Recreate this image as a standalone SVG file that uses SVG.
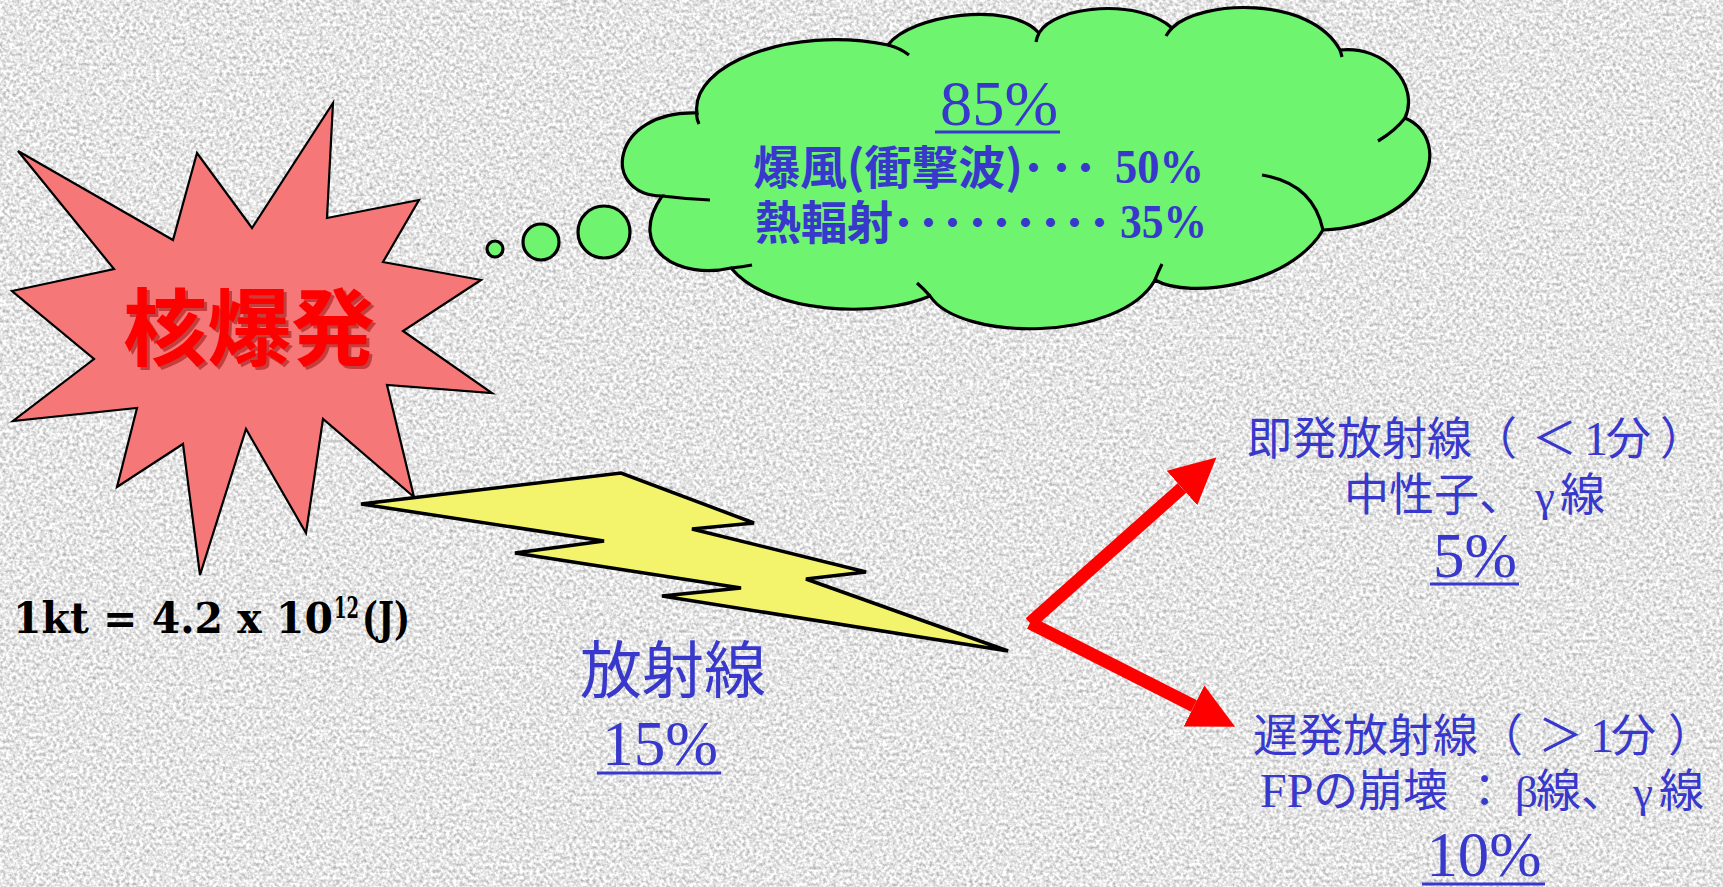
<svg xmlns="http://www.w3.org/2000/svg" width="1723" height="887" viewBox="0 0 1723 887">
  <defs>
    <filter id="grain" x="0" y="0" width="1" height="1" color-interpolation-filters="sRGB">
      <feTurbulence type="fractalNoise" baseFrequency="0.3" numOctaves="2" seed="7"/>
      <feColorMatrix type="matrix" values="0.6 0 0 0 0.6  0.6 0 0 0 0.6  0.6 0 0 0 0.6  0 0 0 0 1"/>
    </filter>
    <marker id="head" markerUnits="userSpaceOnUse" viewBox="0 -24 48 48" refX="0" refY="0" markerWidth="48" markerHeight="48" orient="auto">
      <path d="M0,-23 L46,0 L0,23 Z" fill="#ff0000"/>
    </marker>
    <style>
      .ol { stroke: #000; stroke-linejoin: miter; }
      .stub { fill: none; stroke: #000; stroke-width: 3.2; stroke-linecap: butt; }
      .jp { font-family: "Noto Sans CJK JP", "Noto Sans CJK SC", sans-serif; }
      .ser { font-family: "Liberation Serif", "Times New Roman", serif; }
      .blue { fill: #3838cc; }
      .ul { stroke: #3838cc; stroke-width: 3; }
      .arrow { fill: none; stroke: #ff0000; stroke-width: 13; stroke-linecap: butt; marker-end: url(#head); }
    </style>
  </defs>

  <!-- granite paper backdrop -->
  <rect x="0" y="0" width="1723" height="887" fill="#dedede"/>
  <rect x="0" y="0" width="1723" height="887" filter="url(#grain)"/>

  <!-- explosion burst -->
  <g id="explosion">
    <polygon class="ol" stroke-width="2.2" fill="#f57777"
      points="18,151 173,240 197,153 252,228 333,103 327,218 419,200 383,262 481,280 403,331 492,393 387,385 414,497 323,419 306,533 246,429 200,575 183,444 117,487 137,408 13,421 94,359 12,291 114,269"/>
    <text class="jp" x="252" y="362" font-size="84" font-weight="bold" text-anchor="middle" fill="#9a1010" fill-opacity="0.55">核爆発</text>
    <text class="jp" x="249" y="359" font-size="84" font-weight="bold" text-anchor="middle" fill="#ff0000">核爆発</text>
  </g>

  <!-- energy yield formula -->
  <g id="formula" font-family="DejaVu Serif, serif" font-weight="bold" fill="#000">
    <text x="13" y="633" font-size="43" textLength="320" lengthAdjust="spacingAndGlyphs">1kt = 4.2 x 10</text>
    <text x="334" y="618" font-size="29" textLength="25" lengthAdjust="spacingAndGlyphs">12</text>
    <text x="362" y="634" font-size="44" textLength="48" lengthAdjust="spacingAndGlyphs">(J)</text>
  </g>

  <!-- blast / heat cloud with thought bubbles -->
  <g id="blast-heat">
    <circle class="ol" cx="495" cy="249" r="8" fill="#6ef46e" stroke-width="3.2"/>
    <circle class="ol" cx="541" cy="242" r="18" fill="#6ef46e" stroke-width="3.2"/>
    <circle class="ol" cx="604" cy="232" r="26" fill="#6ef46e" stroke-width="3.2"/>
    <path class="ol" fill="#6ef46e" stroke-width="3.2"
      d="M697,113 C690,65 790,25 888,45 C910,15 1010,0 1039,33 C1055,5 1140,-2 1172,28 C1200,0 1310,-5 1340,50 C1385,45 1420,85 1405,118 C1455,140 1430,225 1323,230 C1290,285 1190,300 1155,280 C1120,342 960,342 930,296 C880,318 770,315 731,268 C680,280 625,250 662,196 C600,195 610,110 697,113 Z"/>
    <path class="stub" d="M697,113 Q696,118 699,124 M888,45 Q900,48 909,55 M1039,33 Q1037,37 1036,42 M1172,28 Q1169,31 1166,36 M1340,50 Q1341,53 1342,57 M1405,118 Q1395,131 1378,141 M1323,230 Q1313,183 1262,175 M1155,280 Q1158,272 1162,264 M930,296 Q924,289 917,283 M731,268 Q742,267 752,265 M662,196 Q686,199 710,200"/>

    <text class="ser blue" x="999" y="125" font-size="64" text-anchor="middle" textLength="118" lengthAdjust="spacingAndGlyphs">85%</text>
    <line class="ul" x1="935" y1="132" x2="1060" y2="132"/>

    <text class="jp blue" x="753" y="184" font-size="46" font-weight="bold" textLength="270" lengthAdjust="spacingAndGlyphs">爆風(衝撃波)</text>
    <text class="jp blue" y="184" font-size="46" font-weight="bold" x="1022 1050 1074">･･･</text>
    <text class="ser blue" x="1115" y="183" font-size="48" font-weight="bold" textLength="89" lengthAdjust="spacingAndGlyphs">50%</text>

    <text class="jp blue" x="755" y="239" font-size="46" font-weight="bold">熱輻射</text>
    <text class="jp blue" y="239" font-size="46" font-weight="bold" x="892 917 941 966 990 1014 1039 1063 1088">･････････</text>
    <text class="ser blue" x="1120" y="238" font-size="48" font-weight="bold" textLength="87" lengthAdjust="spacingAndGlyphs">35%</text>
  </g>

  <!-- radiation bolt -->
  <g id="radiation">
    <polygon class="ol" stroke-width="3.5" fill="#f4f46c"
      points="361,504 621,473 754,523 692,529 866,572 806,579 1008,651 662,596 741,588 515,553 604,541"/>
    <text class="jp blue" x="580" y="693" font-size="62">放射線</text>
    <text class="ser blue" x="660" y="765" font-size="64" text-anchor="middle" textLength="116" lengthAdjust="spacingAndGlyphs">15%</text>
    <line class="ul" x1="597" y1="773" x2="721" y2="773"/>
  </g>

  <!-- branching arrows -->
  <g id="connectors">
    <line class="arrow" x1="1030" y1="623" x2="1182" y2="488"/>
    <line class="arrow" x1="1030" y1="623" x2="1194" y2="706"/>
  </g>

  <!-- prompt radiation -->
  <g id="prompt-radiation" class="blue" font-size="45">
    <text class="jp" y="455"><tspan x="1247">即発放射線（</tspan><tspan x="1532">＜</tspan><tspan class="ser" x="1584" font-size="48">1</tspan><tspan x="1606">分</tspan><tspan x="1660">）</tspan></text>
    <text class="jp" y="511"><tspan x="1344">中性子、</tspan><tspan class="ser" x="1535">γ</tspan><tspan x="1560">線</tspan></text>
    <text class="ser" x="1475" y="577" font-size="64" text-anchor="middle" textLength="84" lengthAdjust="spacingAndGlyphs">5%</text>
    <line class="ul" x1="1430" y1="584" x2="1519" y2="584"/>
  </g>

  <!-- delayed radiation -->
  <g id="delayed-radiation" class="blue" font-size="45">
    <text class="jp" y="752"><tspan x="1253">遅発放射線（</tspan><tspan x="1538">＞</tspan><tspan class="ser" x="1590" font-size="48">1</tspan><tspan x="1611">分</tspan><tspan x="1668">）</tspan></text>
    <text class="jp" y="807"><tspan class="ser" x="1260" font-size="48">FP</tspan><tspan x="1313">の崩壊</tspan><tspan x="1462">：</tspan><tspan class="ser" x="1515">β</tspan><tspan x="1536">線、</tspan><tspan class="ser" x="1633">γ</tspan><tspan x="1659">線</tspan></text>
    <text class="ser" x="1484" y="876" font-size="64" text-anchor="middle" textLength="115" lengthAdjust="spacingAndGlyphs">10%</text>
    <line class="ul" x1="1422" y1="884" x2="1545" y2="884"/>
  </g>
</svg>
